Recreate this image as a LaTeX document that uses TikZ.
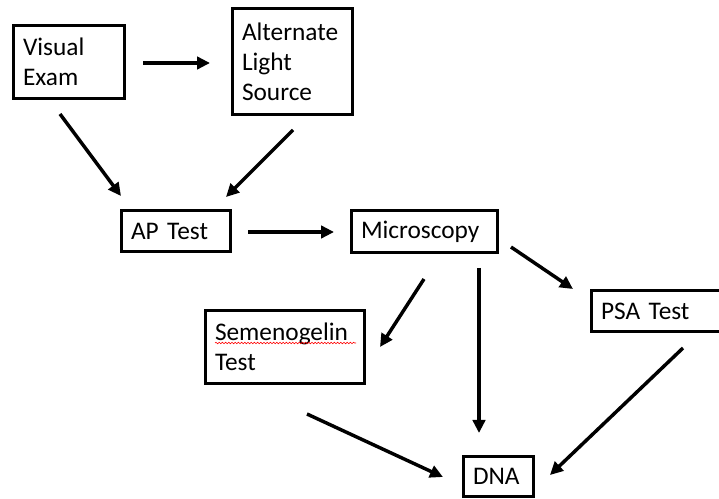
\documentclass[tikz,border=0pt]{standalone}
\usepackage{fontspec}
\setmainfont{Carlito}
\usetikzlibrary{arrows.meta,calc,decorations.pathmorphing}
\begin{document}
\begin{tikzpicture}[x=0.75pt,y=-0.75pt,
  box/.style={draw, line width=2.7pt, outer sep=0pt, align=left,
    inner xsep=7.125pt, inner ysep=1pt,
    font=\fontsize{19pt}{22.5pt}\selectfont},
  arr/.style={line width=2.6pt, -{Triangle[length=9.75pt,width=9.3pt]}}]
\fill[white] (0,0) rectangle (719,499);
\clip (0,0) rectangle (719,499);
\node[box, text width=69pt, minimum height=54.75pt] (ve) at (69,62) {Visual\\Exam};
\node[box, text width=75.75pt, minimum height=79.5pt] (als) at (292.5,61.5) {Alternate\\Light\\Source};
\node[box, text width=67.5pt, minimum height=30.75pt] (ap) at (176,231) {AP Test};
\node[box, text width=95.25pt, minimum height=31.5pt] (mic) at (424.5,231.5) {Microscopy};
\node[box, text width=105pt, minimum height=54.75pt] (sem) at (285,347) {Semenogelin\\Test};
\node[box, text width=100.875pt, minimum height=30.75pt] (psa) at (668.25,311) {PSA Test};
\node[box, text width=38.25pt, minimum height=30pt] (dna) at (498.5,476.5) {DNA};
% spell-check underline
\draw[red, line width=0.45pt, decorate, decoration={snake, amplitude=0.55pt, segment length=2.4pt}]
  ($(sem.north west)+(9.5,32.5)$) -- ($(sem.north west)+(150.5,32.5)$);
% connectors
\draw[arr] ($(ve.east)+(18.5,1)$) -- ($(als.west)+(-22.5,1.5)$);
\draw[arr] ($(ve.south)+(-9,15.5)$) -- ($(ap.north west)+(-0.5,-14.5)$);
\draw[arr] ($(als.south)+(0.5,15.5)$) -- ($(ap.north east)+(-4.5,-13.5)$);
\draw[arr] ($(ap.east)+(17.5,1)$) -- ($(mic.west)+(-17.5,0.5)$);
\draw[arr] ($(mic.south east)+(13.5,-5.5)$) -- ($(psa.north west)+(-18.5,-1.5)$);
\draw[arr] ($(mic.south)+(-0.5,26.5)$) -- ($(sem.east)+(15.5,0)$);
\draw[arr] ($(mic.south)+(54.5,15.5)$) -- ($(dna.north)+(-19.5,-23.5)$);
\draw[arr] ($(sem.south)+(22,30.5)$) -- ($(dna.west)+(-20.5,0.5)$);
\draw[arr] ($(psa.south west)+(91.5,16.5)$) -- ($(dna.east)+(16.5,-1.5)$);
\end{tikzpicture}
\end{document}
